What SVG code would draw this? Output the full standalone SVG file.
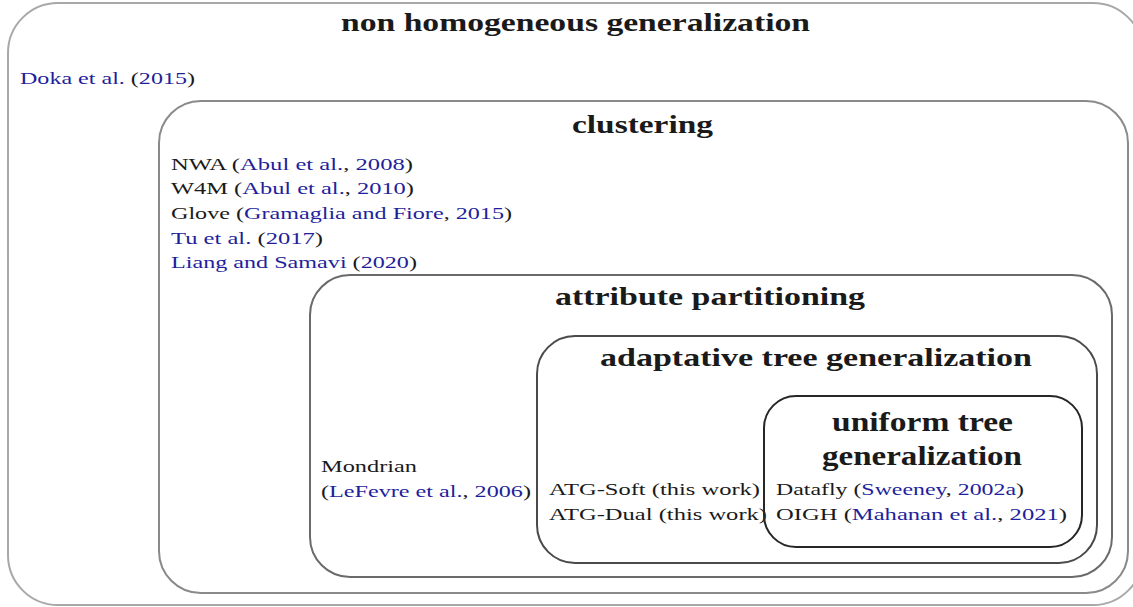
<svg xmlns="http://www.w3.org/2000/svg" width="1133" height="607" viewBox="0 0 1133 607">
<style>
.box{fill:none;stroke-width:2}
.t{font-family:'Liberation Serif','DejaVu Serif','Times New Roman',serif;font-size:17px;fill:#1a1a1a}
.h{font-family:'Liberation Serif','DejaVu Serif','Times New Roman',serif;font-size:25px;font-weight:bold;fill:#1a1a1a}
.c{fill:#1f1f9c}
</style>
<rect width="1133" height="607" fill="#ffffff"/>
<g id="non-homogeneous">
<rect class="box" x="8" y="3" width="1135" height="602" rx="50" ry="50" stroke="#a8a8a8"/>
<text class="h" x="341" y="31" textLength="469" lengthAdjust="spacingAndGlyphs">non homogeneous generalization</text>
<text class="t" x="20" y="84" textLength="175" lengthAdjust="spacingAndGlyphs"><tspan class="c">Doka et al.</tspan> (<tspan class="c">2015</tspan>)</text>
</g>
<g id="clustering">
<rect class="box" x="159" y="101" width="969" height="492" rx="42" ry="42" stroke="#8a8a8a"/>
<text class="h" x="572" y="133" textLength="141" lengthAdjust="spacingAndGlyphs">clustering</text>
<text class="t" x="171" y="170" textLength="242" lengthAdjust="spacingAndGlyphs">NWA (<tspan class="c">Abul et al.</tspan>, <tspan class="c">2008</tspan>)</text>
<text class="t" x="171" y="194" textLength="243" lengthAdjust="spacingAndGlyphs">W4M (<tspan class="c">Abul et al.</tspan>, <tspan class="c">2010</tspan>)</text>
<text class="t" x="171" y="219" textLength="341" lengthAdjust="spacingAndGlyphs">Glove (<tspan class="c">Gramaglia and Fiore</tspan>, <tspan class="c">2015</tspan>)</text>
<text class="t" x="171" y="244" textLength="152" lengthAdjust="spacingAndGlyphs"><tspan class="c">Tu et al.</tspan> (<tspan class="c">2017</tspan>)</text>
<text class="t" x="171" y="268" textLength="246" lengthAdjust="spacingAndGlyphs"><tspan class="c">Liang and Samavi</tspan> (<tspan class="c">2020</tspan>)</text>
</g>
<g id="attribute-partitioning">
<rect class="box" x="310" y="275" width="802" height="302" rx="40" ry="40" stroke="#6a6a6a"/>
<text class="h" x="555" y="305" textLength="310" lengthAdjust="spacingAndGlyphs">attribute partitioning</text>
<text class="t" x="321" y="472" textLength="96" lengthAdjust="spacingAndGlyphs">Mondrian</text>
<text class="t" x="321" y="497" textLength="210" lengthAdjust="spacingAndGlyphs">(<tspan class="c">LeFevre et al.</tspan>, <tspan class="c">2006</tspan>)</text>
</g>
<g id="adaptative-tree-generalization">
<rect class="box" x="537" y="336" width="560" height="227" rx="38" ry="38" stroke="#4a4a4a"/>
<text class="h" x="600" y="366" textLength="432" lengthAdjust="spacingAndGlyphs">adaptative tree generalization</text>
<text class="t" x="549" y="495" textLength="211" lengthAdjust="spacingAndGlyphs">ATG-Soft (this work)</text>
<text class="t" x="549" y="520" textLength="218" lengthAdjust="spacingAndGlyphs">ATG-Dual (this work)</text>
</g>
<g id="uniform-tree-generalization">
<rect class="box" x="764" y="396" width="318" height="151" rx="32" ry="32" stroke="#262626"/>
<text class="h" x="832" y="431" textLength="181" lengthAdjust="spacingAndGlyphs" style="font-size:27px">uniform tree</text>
<text class="h" x="822" y="465" textLength="200" lengthAdjust="spacingAndGlyphs" style="font-size:27px">generalization</text>
<text class="t" x="776" y="495" textLength="248" lengthAdjust="spacingAndGlyphs">Datafly (<tspan class="c">Sweeney</tspan>, <tspan class="c">2002a</tspan>)</text>
<text class="t" x="776" y="520" textLength="291" lengthAdjust="spacingAndGlyphs">OIGH (<tspan class="c">Mahanan et al.</tspan>, <tspan class="c">2021</tspan>)</text>
</g>
<g id="connectors"></g>
</svg>
